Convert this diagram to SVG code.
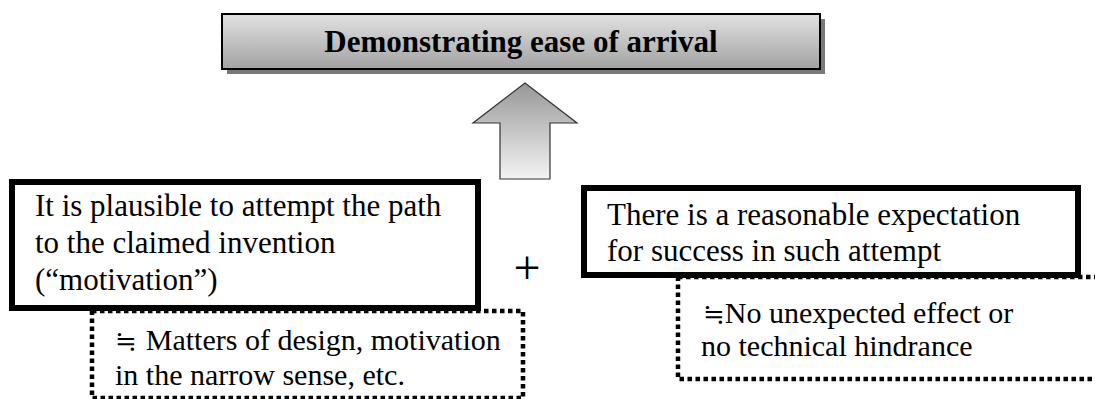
<svg xmlns="http://www.w3.org/2000/svg" width="1095" height="399" viewBox="0 0 1095 399">
  <defs>
    <linearGradient id="gTitle" x1="0" y1="0" x2="0" y2="1">
      <stop offset="0" stop-color="#e2e2e2"/>
      <stop offset="1" stop-color="#a2a2a2"/>
    </linearGradient>
    <linearGradient id="gArrow" x1="0" y1="0" x2="0" y2="1">
      <stop offset="0" stop-color="#979797"/>
      <stop offset="1" stop-color="#f4f4f4"/>
    </linearGradient>
  </defs>
  <style>
    .t { font-family: "Liberation Serif", "Times New Roman", "DejaVu Serif", serif; font-size: 31px; fill: #000; }
    .n { font-family: "Liberation Serif", "Times New Roman", "DejaVu Serif", serif; font-size: 30px; fill: #000; }
    .sym { font-size: 26px; }
    .title { font-family: "Liberation Serif", "Times New Roman", serif; font-size: 31px; font-weight: bold; fill: #000; }
    .plus { font-family: "Liberation Serif", "Times New Roman", serif; font-size: 48px; fill: #000; }
    .thick { fill: #fff; stroke: #000; stroke-width: 6; }
    .dotted { fill: none; stroke: #000; stroke-width: 4.5; stroke-dasharray: 4.5 3.5; }
  </style>

  <g id="title">
    <rect x="227" y="19" width="598" height="55" fill="#7a7a7a"/>
    <rect x="222" y="14" width="598" height="55" fill="url(#gTitle)" stroke="#000" stroke-width="2"/>
    <text x="521" y="52" class="title" text-anchor="middle">Demonstrating ease of arrival</text>
  </g>

  <g id="connectors">
    <polygon points="525,83 577,123 550,123 550,179 500,179 500,123 473,123" fill="url(#gArrow)" stroke="#333" stroke-width="1.2"/>
    <text x="527" y="284" class="plus" text-anchor="middle">+</text>
  </g>

  <g id="left-box">
    <rect x="12" y="182" width="466" height="126" class="thick"/>
    <text x="35" y="216" class="t">It is plausible to attempt the path</text>
    <text x="35" y="253" class="t">to the claimed invention</text>
    <text x="35" y="290" class="t">(“motivation”)</text>
  </g>

  <g id="left-note">
    <rect x="92" y="311" width="431" height="87" class="dotted"/>
    <text x="115" y="350" class="n"><tspan class="sym">≒</tspan><tspan dx="9">Matters of design, motivation</tspan></text>
    <text x="115" y="385" class="n">in the narrow sense, etc.</text>
  </g>

  <g id="right-box">
    <rect x="584" y="188" width="494" height="87" class="thick"/>
    <text x="607" y="225" class="t">There is a reasonable expectation</text>
    <text x="607" y="261" class="t">for success in such attempt</text>
  </g>

  <g id="right-note">
    <rect x="678" y="277" width="440" height="102" class="dotted"/>
    <text x="703" y="323" class="n"><tspan class="sym">≒</tspan>No unexpected effect or</text>
    <text x="701" y="356" class="n">no technical hindrance</text>
  </g>
</svg>
